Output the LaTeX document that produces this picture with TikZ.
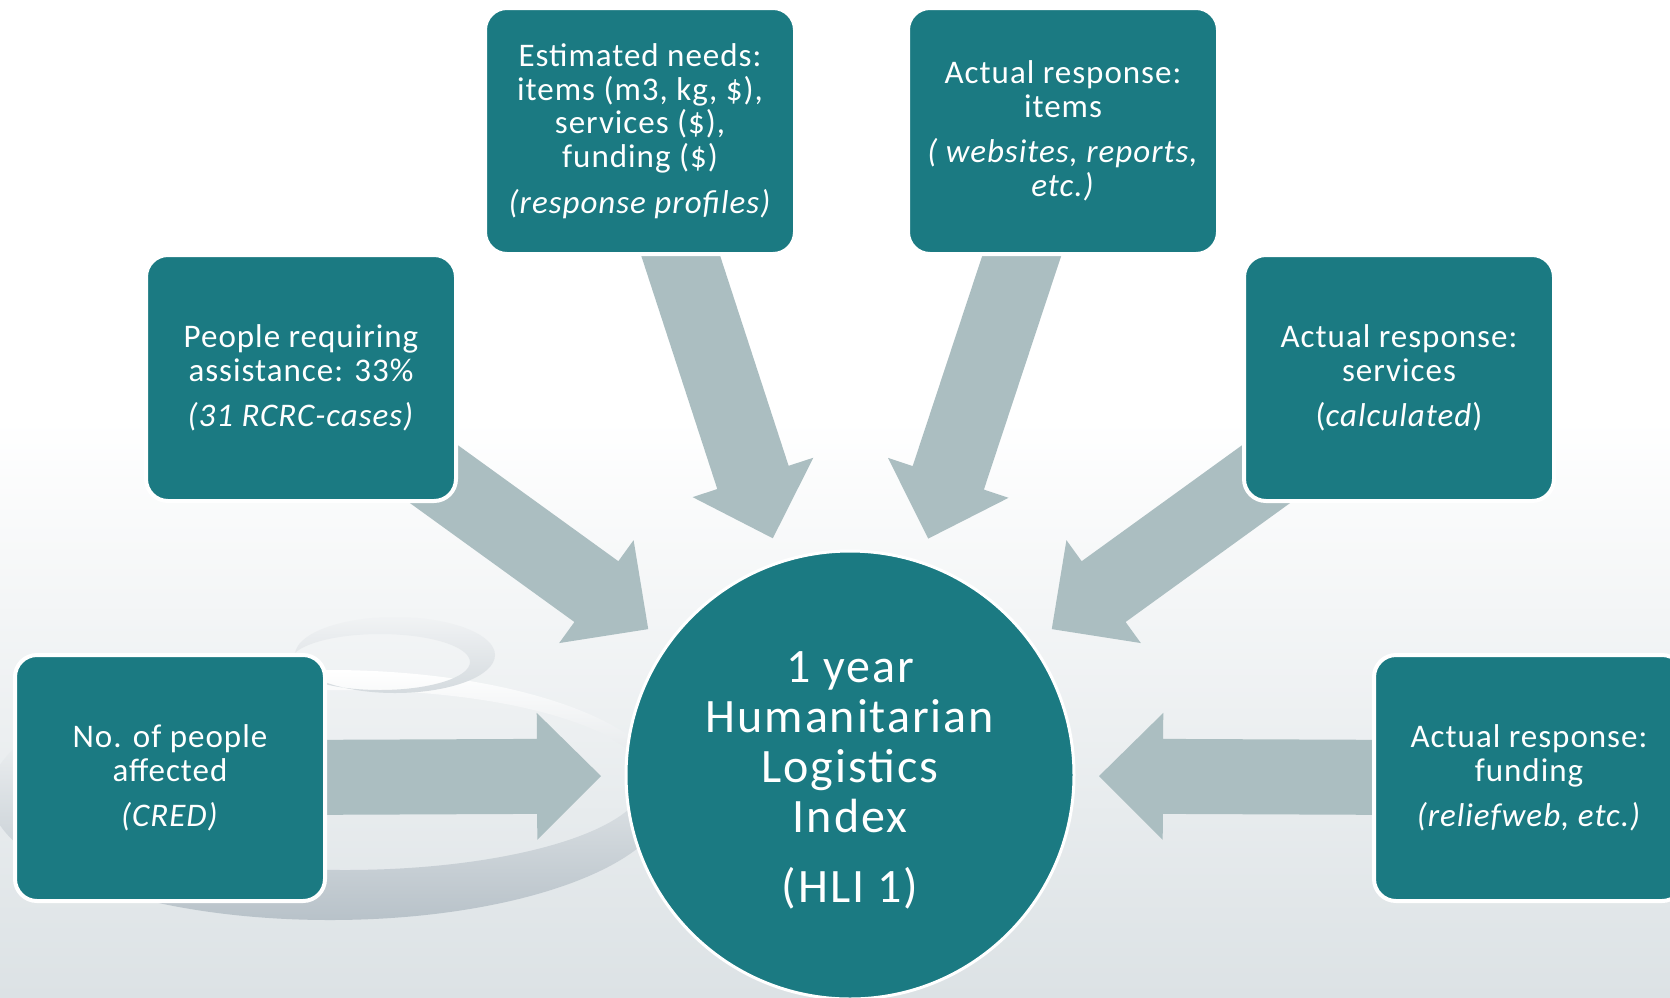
\documentclass[tikz,border=0pt]{standalone}
\usepackage{fontspec}
\setmainfont{Carlito}[LetterSpace=3]
\usetikzlibrary{calc}
\definecolor{hlteal}{RGB}{27,122,130}
\definecolor{feedgrey}{RGB}{171,190,193}
\definecolor{bgbot}{RGB}{220,226,229}
\definecolor{swirlgrey}{RGB}{184,194,201}
\pgfdeclarelayer{back}
\pgfdeclarelayer{feeds}
\pgfsetlayers{back,feeds,main}

\newcommand\feed[2]{%
  \coordinate (tip) at ($(#2.center)!124.5pt!(#1.center)$);
  \coordinate (base) at ($(tip)!32pt!(#1.center)$);
  \fill[feed] ($(#1.center)!18.75pt!90:(tip)$) -- ($(base)!18.75pt!90:(tip)$)
    -- ($(base)!31.75pt!90:(tip)$) -- (tip) -- ($(base)!31.75pt!-90:(tip)$)
    -- ($(base)!18.75pt!-90:(tip)$) -- ($(#1.center)!18.75pt!-90:(tip)$) -- cycle;}

\begin{document}
\begin{tikzpicture}[x=0.5pt,y=-0.5pt,
  box/.style={rectangle,rounded corners=11pt,fill=hlteal,draw=white,line width=2pt,
    minimum width=155pt,minimum height=123pt,align=center,text=white,
    font=\fontsize{16.5}{16.8}\selectfont},
  hub/.style={circle,fill=hlteal,draw=white,line width=1.5pt,minimum size=224pt,
    align=center,text=white,font=\fontsize{24}{25}\selectfont\addfontfeature{LetterSpace=4}},
  feed/.style={fill=feedgrey}]
  \useasboundingbox (0,0) rectangle (1670,997);

  \node[hub] (hli) at (850,775) {\rule{0pt}{21pt}1 year\\Humanitarian\\Logistics\\Index\\[10pt](HLI 1)};

  \node[box] (affected) at (170,778) {No. of people\\affected\\[6pt]\textit{(CRED)}};
  \node[box] (assist) at (301,378) {People requiring\\assistance: 33\%\\[6pt]\textit{(31 RCRC-cases)}};
  \node[box] (needs) at (640,131) {Estimated needs:\\items (m3, kg, \$),\\services (\$),\\funding (\$)\\[6pt]\textit{(response profiles)}};
  \node[box] (items) at (1063,131) {Actual response:\\items\\[6pt]\textit{( websites, reports,}\\\textit{etc.)}};
  \node[box] (services) at (1399,378) {Actual response:\\services\\[6pt](\textit{calculated})};
  \node[box] (funding) at (1529,778) {Actual response:\\funding\\[6pt]\textit{(reliefweb, etc.)}};

  \begin{pgfonlayer}{back}
    \fill[white] (0,0) rectangle (1670,420);
    \shade[top color=white,bottom color=bgbot] (0,419) rectangle (1670,997);
    \shade[top color=white,bottom color=swirlgrey,even odd rule]
      (330,795) ellipse [x radius=340,y radius=125]
      (345,780) ellipse [x radius=300,y radius=90];
    \shade[top color=white!80!swirlgrey,bottom color=white!40!swirlgrey,even odd rule]
      (395,655) ellipse [x radius=100,y radius=38]
      (380,662) ellipse [x radius=90,y radius=28];
  \end{pgfonlayer}

  \begin{pgfonlayer}{feeds}
    \foreach \src in {affected,assist,needs,items,services,funding}
      {\feed{\src}{hli}}
  \end{pgfonlayer}
\end{tikzpicture}
\end{document}
